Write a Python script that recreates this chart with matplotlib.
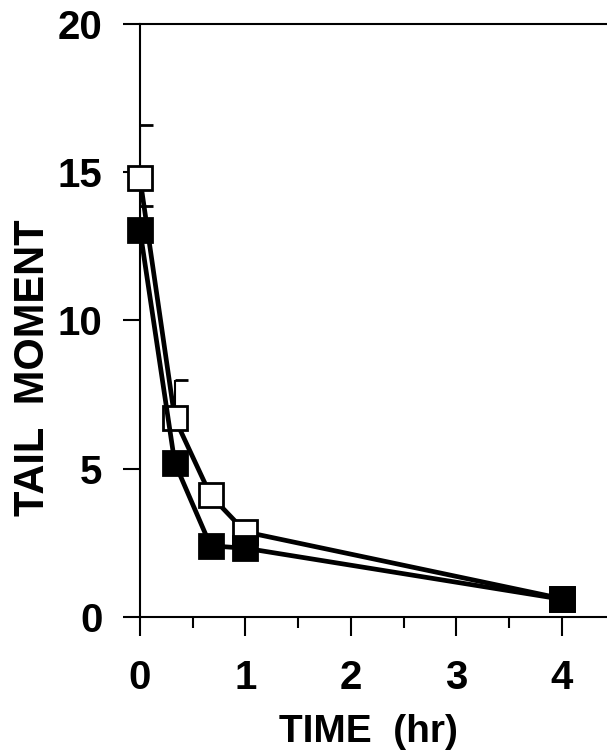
import matplotlib.pyplot as plt
import numpy as np
from matplotlib.path import Path
from matplotlib.ticker import MultipleLocator

# time points (hr) and tail moment
time_hr = np.array([0, 0.33, 0.67, 1.0, 4.0])
open_vals = np.array([14.8, 6.7, 4.1, 2.87, 0.62])
open_err = np.array([1.8, 1.3, 0, 0, 0])
filled_vals = np.array([13.05, 5.2, 2.4, 2.32, 0.6])
filled_err = np.array([0.8, 0, 0, 0, 0])

x_ticks = [0, 1, 2, 3, 4]
y_ticks = [0, 5, 10, 15, 20]

plt.rcParams['font.family'] = ['Liberation Sans', 'DejaVu Sans']
plt.rcParams['font.weight'] = 'bold'

fig = plt.figure(figsize=(6.07, 7.54), dpi=100)
ax = fig.add_axes([0.2306, 0.1817, 0.7694, 0.7865])

# half cap pointing right, as in the original
half_cap = Path([[0, 0], [1, 0]])


def draw_series(vals, err, filled):
    face = 'black' if filled else 'white'
    ax.errorbar(time_hr, vals, yerr=[np.zeros_like(err), err], fmt='none',
                ecolor='black', elinewidth=1.5, capsize=0, zorder=2)
    has_err = err > 0
    ax.plot(time_hr[has_err], (vals + err)[has_err], ls='none', marker=half_cap,
            ms=18, mew=2, color='black', zorder=2)
    ax.plot(time_hr, vals, '-', color='black', lw=3.4, marker='s', ms=17,
            mfc=face, mec='black', mew=2, zorder=3, clip_on=False)


draw_series(open_vals, open_err, filled=False)
draw_series(filled_vals, filled_err, filled=True)

ax.set_xlim(0, 4.43)
ax.set_ylim(0, 20)
ax.set_xticks(x_ticks)
ax.set_yticks(y_ticks)
ax.xaxis.set_minor_locator(MultipleLocator(0.5))

ax.tick_params(axis='x', which='major', direction='out', length=14, width=1.5,
               pad=16, labelsize=29)
ax.tick_params(axis='x', which='minor', direction='out', length=8, width=1.5)
ax.tick_params(axis='y', which='major', direction='out', length=12, width=1.5,
               pad=15, labelsize=29)

for side in ['left', 'bottom', 'top']:
    ax.spines[side].set_linewidth(1.5)
ax.spines['right'].set_visible(False)

ax.set_xlabel('TIME  (hr)', fontsize=28, fontweight='bold')
ax.xaxis.set_label_coords(0.49, -0.163)
ax.set_ylabel('TAIL  MOMENT', fontsize=30, fontweight='bold')
ax.yaxis.set_label_coords(-0.186, 0.42)

fig.savefig('out.png', dpi=100)
plt.close()
